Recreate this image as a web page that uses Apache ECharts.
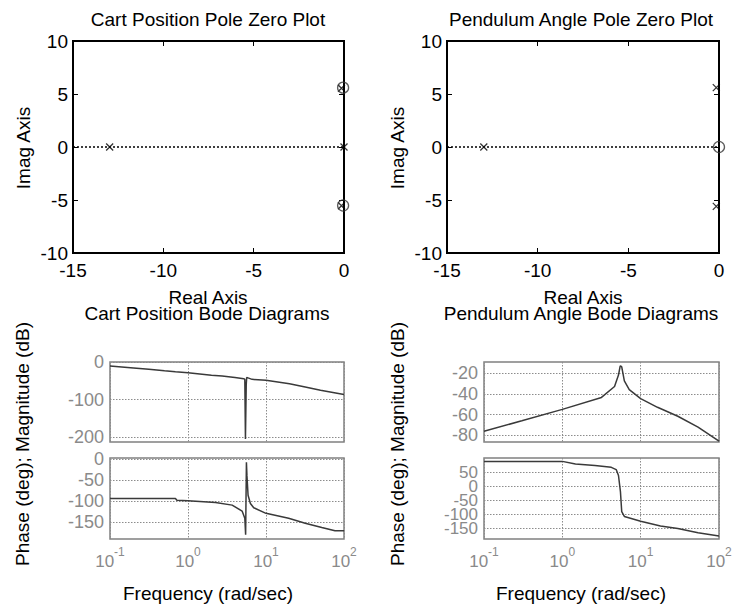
<!DOCTYPE html>
<html>
<head>
<meta charset="utf-8">
<script src="https://cdn.jsdelivr.net/npm/echarts@6/dist/echarts.min.js"></script>
<style>
  html, body { margin: 0; padding: 0; background: #fff; }
  #chart { width: 735px; height: 606px; }
</style>
</head>
<body>
<div id="chart"></div>
<script>
// Pole / zero locations as [real, imaginary]
const cartPoles = [[-12.97, 0], [0, 0], [-0.14, 5.55], [-0.14, -5.55]];
const cartZeros = [[-0.05, 5.6], [-0.05, -5.52]];
const pendPoles = [[-12.97, 0], [-0.15, 5.6], [-0.15, -5.6]];
const pendZeros = [[0, 0]];

// Cart position Bode response
const cartMagFreq = [0.1, 0.2, 0.315, 0.5, 0.69, 1, 2, 2.74, 4, 5.19, 5.35, 5.45, 5.52, 5.58, 5.65, 6.0, 6.63, 10, 20, 31.8, 50, 100];
const cartMagDb   = [-10.8, -16, -19.6, -23.5, -26, -28.5, -35, -37.3, -41.5, -44.4, -46, -205, -205, -60, -41.5, -43, -46.2, -48.8, -58, -66.5, -75, -86.8];
const cartPhaseFreq = [0.1, 0.69, 0.72, 1, 2.25, 3.68, 4.94, 5.35, 5.48, 5.5, 5.61, 5.7, 5.89, 6.31, 6.96, 10, 19.5, 31.8, 51.9, 76.7, 100];
const cartPhaseDeg  = [-93.8, -93.8, -98, -99.3, -103, -109.5, -123.6, -140.8, -180, -180, -7.7, -40, -86, -105.6, -115.7, -129, -140.8, -152.5, -162.7, -170.6, -170.6];

// Pendulum angle Bode response
const pendMagFreq = [0.1, 0.304, 1, 3.16, 4.64, 5.21, 5.45, 5.52, 5.73, 6.19, 7.15, 10, 16.4, 29.8, 54, 100];
const pendMagDb   = [-76, -66, -55, -43.5, -33, -22, -14, -13, -14, -27.5, -36, -44.6, -53, -61.6, -72, -85.5];
const pendPhaseFreq = [0.1, 1, 1.47, 2.61, 4.22, 4.87, 5.21, 5.52, 5.73, 6.19, 10, 17.9, 29.8, 54, 100];
const pendPhaseDeg  = [88, 88, 79, 73, 67, 59, 38, -20, -90, -107, -124, -141, -150, -165, -176];

// Tick labels
const cartMagTicks = [-200, -100, 0];
const cartPhaseTicks = [-150, -100, -50, 0];
const pendMagTicks = [-80, -60, -40, -20];
// the pendulum phase ticks are tightly packed, so they are spread over two stacked label axes
const pendPhaseTicksA = [-150, -50, 50];
const pendPhaseTicksB = [-100, 0];

const FONT = 'Liberation Sans, Arial, sans-serif';
const GRAY = '#8a8a8a';
const CURVE = '#3a3a3a';

const pairs = (xs, ys) => xs.map((x, i) => [x, ys[i]]);

const xMark = 'path://M0,0L10,10M10,0L0,10';

// Pole-zero grids (0, 1) and Bode grids (2..5)
const grids = [
  { left: 73, top: 41, width: 271, height: 212 },
  { left: 447, top: 41, width: 272, height: 212 },
  { left: 110, top: 362, width: 234, height: 80 },
  { left: 110, top: 458, width: 234, height: 81 },
  { left: 484, top: 362, width: 235, height: 80 },
  { left: 484, top: 458, width: 235, height: 81 }
].map((g, i) => Object.assign({
  show: true,
  backgroundColor: 'transparent',
  borderColor: i < 2 ? '#000' : '#808080',
  borderWidth: i < 2 ? 2 : 1.5
}, g));

const xAxes = [];
const yAxes = [];
const noLine = { show: false, onZero: false };

function pzAxes(gi) {
  const tick = { show: true, inside: true, length: 5, lineStyle: { color: '#000', width: 1 } };
  const label = { color: '#000', fontSize: 19, fontFamily: FONT };
  xAxes.push({ gridIndex: gi, type: 'value', min: -15, max: 0, interval: 5, position: 'bottom',
    axisLine: noLine, axisTick: tick, splitLine: { show: false },
    axisLabel: Object.assign({ margin: 8 }, label) });
  xAxes.push({ gridIndex: gi, type: 'value', min: -15, max: 0, interval: 5, position: 'top',
    axisLine: noLine, axisTick: tick, splitLine: { show: false }, axisLabel: { show: false } });
  yAxes.push({ gridIndex: gi, type: 'value', min: -10, max: 10, interval: 5, position: 'left',
    axisLine: noLine, axisTick: tick, splitLine: { show: false },
    axisLabel: Object.assign({ margin: 5 }, label) });
  yAxes.push({ gridIndex: gi, type: 'value', min: -10, max: 10, interval: 5, position: 'right',
    axisLine: noLine, axisTick: tick, splitLine: { show: false }, axisLabel: { show: false } });
}
pzAxes(0);
pzAxes(1);

const dotted = { show: true, lineStyle: { color: '#8c8c8c', type: [1.5, 1.5], width: 1 } };

function bodeX(gi, showLabels) {
  xAxes.push({ gridIndex: gi, type: 'log', logBase: 10, min: 0.1, max: 100,
    axisLine: noLine, axisTick: { show: false }, splitLine: dotted,
    axisLabel: {
      show: showLabels, margin: 7,
      formatter: v => '{b|10}{s|' + Math.round(Math.log10(v)) + '}',
      rich: {
        b: { fontSize: 17, color: GRAY, fontFamily: FONT, verticalAlign: 'bottom' },
        s: { fontSize: 12, color: GRAY, fontFamily: FONT, verticalAlign: 'top', padding: [0, 0, 12, 0] }
      }
    } });
}
function bodeY(gi, min, max, ticks, size) {
  yAxes.push({ gridIndex: gi, type: 'value', min: min, max: max, position: 'left',
    axisLine: noLine,
    axisTick: { show: false, customValues: ticks },
    splitLine: dotted,
    axisLabel: { customValues: ticks, margin: 6, color: GRAY, fontSize: size, fontFamily: FONT } });
}
bodeX(2, false); bodeY(2, -213, 0, cartMagTicks, 18);
bodeX(3, true);  bodeY(3, -190, 2.5, cartPhaseTicks, 18);
bodeX(4, false); bodeY(4, -86.4, -9.4, pendMagTicks, 18);
bodeX(5, true);  bodeY(5, -187, 100, pendPhaseTicksA, 17);
bodeY(5, -187, 100, pendPhaseTicksB, 17);

// axis indices: pole-zero plots use bottom/left axes (0/0 and 2/2); Bode x/y axes 4..7
const zeroLine = {
  symbol: 'none', silent: true, label: { show: false },
  lineStyle: { color: '#000', type: [2, 2], width: 1.5 },
  data: [{ yAxis: 0 }]
};
const poleStyle = { color: 'none', borderColor: '#000', borderWidth: 1.3 };
const zeroStyle = { color: 'none', borderColor: '#333', borderWidth: 1.3 };

const series = [
  { type: 'scatter', xAxisIndex: 0, yAxisIndex: 0, data: cartPoles, symbol: xMark, symbolSize: 7,
    itemStyle: poleStyle, markLine: zeroLine, z: 3 },
  { type: 'scatter', xAxisIndex: 0, yAxisIndex: 0, data: cartZeros, symbol: 'circle', symbolSize: 11,
    itemStyle: zeroStyle, z: 3 },
  { type: 'scatter', xAxisIndex: 2, yAxisIndex: 2, data: pendPoles, symbol: xMark, symbolSize: 7,
    itemStyle: poleStyle, markLine: zeroLine, z: 3 },
  { type: 'scatter', xAxisIndex: 2, yAxisIndex: 2, data: pendZeros, symbol: 'circle', symbolSize: 11,
    itemStyle: zeroStyle, z: 3 }
];
const bodeLine = (xi, data) => ({
  type: 'line', xAxisIndex: xi, yAxisIndex: xi, data: data, showSymbol: false, symbol: 'none',
  lineStyle: { color: CURVE, width: 1.5 }, clip: true, z: 3
});
series.push(bodeLine(4, pairs(cartMagFreq, cartMagDb)));
series.push(bodeLine(5, pairs(cartPhaseFreq, cartPhaseDeg)));
series.push(bodeLine(6, pairs(pendMagFreq, pendMagDb)));
series.push(bodeLine(7, pairs(pendPhaseFreq, pendPhaseDeg)));

function txt(text, x, y, rotate) {
  return {
    type: 'text', x: x, y: y, rotation: rotate ? Math.PI / 2 : 0,
    style: { text: text, fill: '#000', font: '19px ' + FONT, textAlign: 'center', textVerticalAlign: 'middle' }
  };
}

const graphics = [
  txt('Cart Position Pole Zero Plot', 208, 19),
  txt('Pendulum Angle Pole Zero Plot', 581, 19),
  txt('Imag Axis', 23, 148, true),
  txt('Imag Axis', 397, 148, true),
  txt('Real Axis', 208, 297),
  txt('Real Axis', 583, 297),
  txt('Cart Position Bode Diagrams', 207, 313),
  txt('Pendulum Angle Bode Diagrams', 581, 313),
  txt('Phase (deg); Magnitude (dB)', 22, 444, true),
  txt('Phase (deg); Magnitude (dB)', 397, 444, true),
  txt('Frequency (rad/sec)', 208, 593),
  txt('Frequency (rad/sec)', 581, 593)
];

const chart = echarts.init(document.getElementById('chart'), null, { renderer: 'svg' });
chart.setOption({
  animation: false,
  backgroundColor: '#fff',
  grid: grids,
  xAxis: xAxes,
  yAxis: yAxes,
  series: series,
  graphic: { elements: graphics }
});
</script>
</body>
</html>
